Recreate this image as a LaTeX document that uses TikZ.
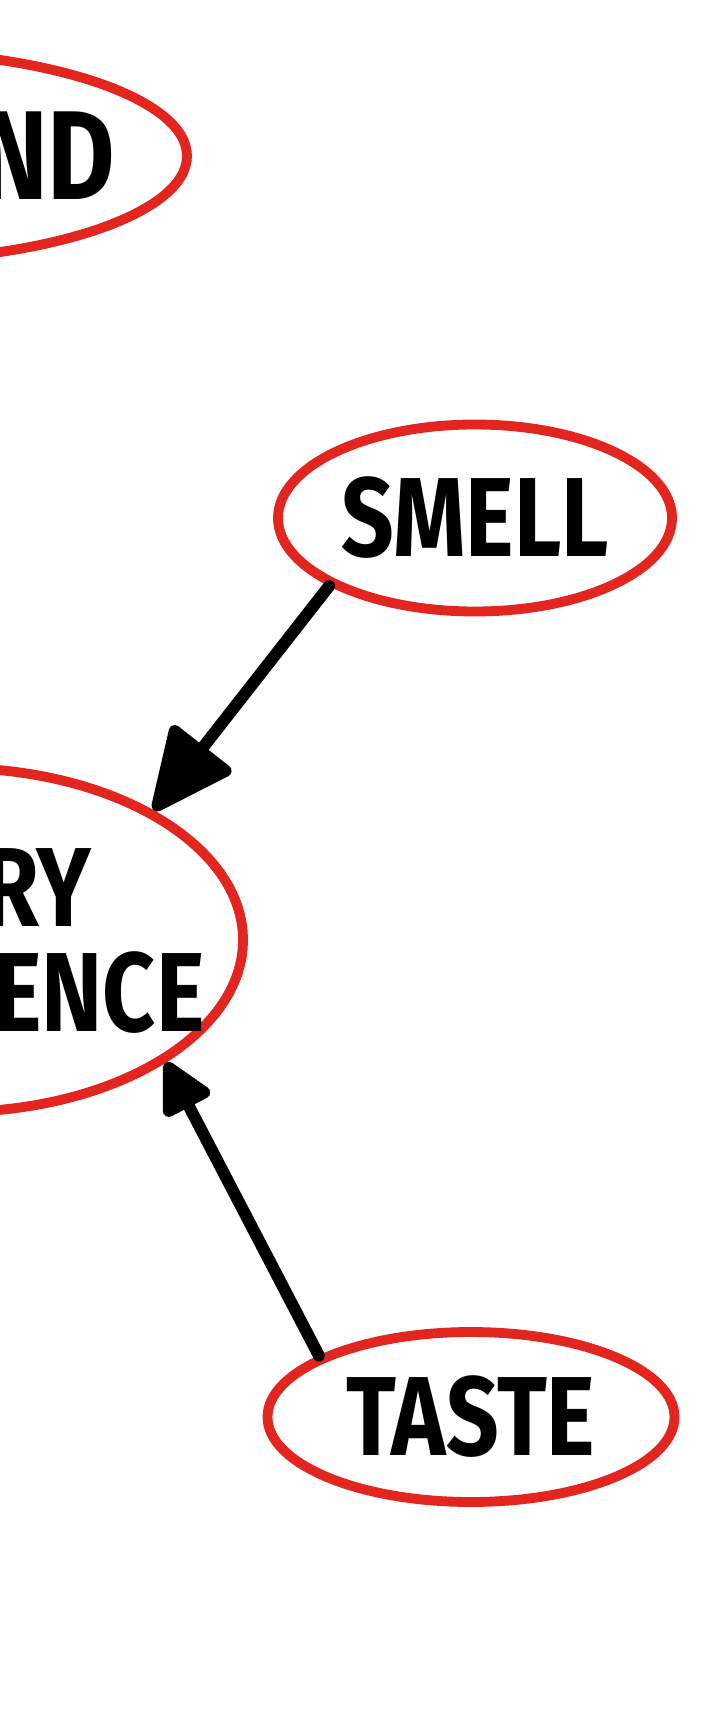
\documentclass[tikz,border=0pt]{standalone}
\usepackage{fontspec}
\newfontfamily\handfont[FakeStretch=0.82]{Fira Sans}
\usetikzlibrary{arrows.meta,shapes.geometric}
\definecolor{markerred}{RGB}{226,37,30}

\begin{document}
\begin{tikzpicture}[
  sense/.style={ellipse, draw=markerred, line width=2.8pt, inner sep=0pt,
                font=\handfont\bfseries\fontsize{32}{30}\selectfont},
  arr/.style={line width=3.4pt, line cap=round, black},
]
\useasboundingbox (0,0) rectangle (7.18,-17.18);
\clip (0,0) rectangle (7.18,-17.18);
\node[sense, minimum width=6.28cm, minimum height=2.1cm, inner xsep=-0.5cm,
      text width=4.85cm, align=right, font=\handfont\bfseries\fontsize{36}{36}\selectfont]
  (sound) at (-1.27,-1.56) {SOUND};
\node[sense, minimum width=5.78cm, minimum height=3.44cm, inner xsep=-0.5cm,
      align=left] (exp) at (-0.46,-9.40) {SENSORY\\EXPERIENCE};
\node[sense, minimum width=3.94cm, minimum height=1.87cm] (smell) at (4.75,-5.18) {SMELL};
\node[sense, minimum width=4.07cm, minimum height=1.70cm] (taste) at (4.71,-14.17) {TASTE};
\draw[arr, -{Triangle[round, length=0.9cm, width=0.8cm]}] (smell.205) -- (exp.33);
\draw[arr, -{Triangle[round, length=0.58cm, width=0.56cm]}] (taste.158) -- (exp.-30);
\end{tikzpicture}
\end{document}
